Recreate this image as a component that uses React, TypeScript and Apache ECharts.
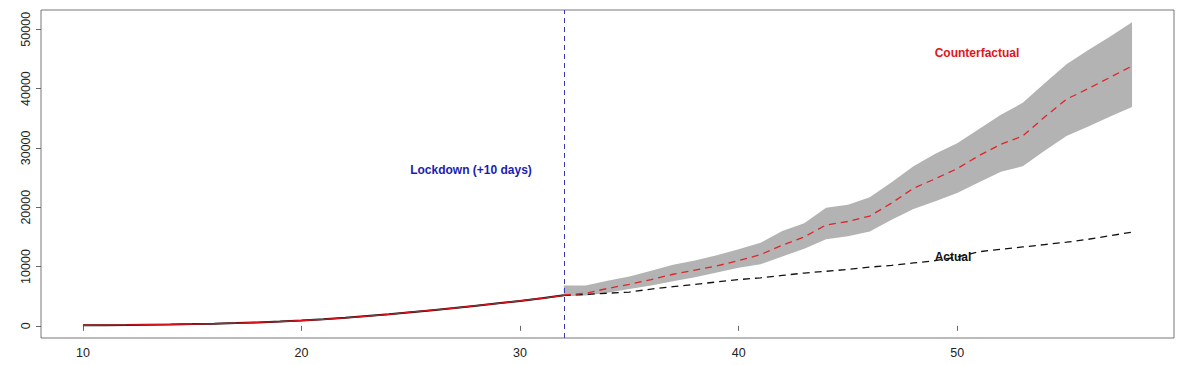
import React, { useEffect, useRef } from "react";
import * as echarts from "echarts";

// Pre-lockdown (days 10..32): observed = counterfactual
const preDays = [10, 11, 12, 13, 14, 15, 16, 17, 18, 19, 20, 21, 22, 23, 24, 25, 26, 27, 28, 29, 30, 31, 32];
const preValues = [100, 120, 150, 190, 240, 300, 370, 460, 570, 720, 900, 1100, 1350, 1650, 1950, 2300, 2650, 3000, 3400, 3800, 4200, 4650, 5150];

// Post-lockdown (days 32..58)
const postDays = [32, 33, 34, 35, 36, 37, 38, 39, 40, 41, 42, 43, 44, 45, 46, 47, 48, 49, 50, 51, 52, 53, 54, 55, 56, 57, 58];
const actual = [5150, 5300, 5500, 5700, 6200, 6600, 7000, 7400, 7800, 8100, 8500, 8900, 9200, 9500, 9900, 10200, 10600, 11000, 11600, 12500, 12900, 13300, 13700, 14100, 14600, 15200, 15800];
const cfMedian = [5200, 5500, 6300, 7000, 7800, 8700, 9400, 10100, 11000, 12000, 13600, 15000, 17000, 17600, 18500, 20700, 23200, 24800, 26500, 28700, 30600, 32000, 35200, 38200, 40000, 41900, 43800];
const cfLower = [5000, 5100, 5600, 6200, 6800, 7500, 8200, 9000, 9800, 10400, 11700, 13000, 14600, 15100, 15900, 17900, 19700, 21000, 22400, 24200, 26000, 26900, 29500, 32000, 33600, 35300, 36900];
const cfUpper = [6800, 6800, 7600, 8300, 9300, 10300, 11000, 11900, 12900, 14000, 16000, 17300, 19900, 20400, 21700, 24200, 26900, 29000, 30800, 33200, 35600, 37600, 40900, 44100, 46500, 48800, 51200];

const lockdownDay = 32;
const xTicks = [10, 20, 30, 40, 50];
const yTicks = [0, 10000, 20000, 30000, 40000, 50000];

const FONT = "'Liberation Sans', Arial, Helvetica, sans-serif";

export default function App() {
  const ref = useRef<HTMLDivElement>(null);
  useEffect(() => {
    if (!ref.current) return;
    const chart = echarts.init(ref.current, null, { renderer: "svg" });
    const zip = (xs: number[], ys: number[]) => xs.map((x, i) => [x, ys[i]]);
    const xMin = 10 - 0.04 * 48;
    const xMax = 58 + 0.04 * 48;
    const yMin = -0.04 * 51200;
    const yMax = 51200 * 1.04;
    const bandData = postDays.map((d, i) => [d, cfLower[i], cfUpper[i]]);
    chart.setOption({
      animation: false,
      grid: {
        left: 41,
        top: 10,
        right: 22,
        bottom: 27,
        show: true,
        borderColor: "#777",
        borderWidth: 1,
        backgroundColor: "transparent",
      },
      xAxis: {
        type: "value",
        min: xMin,
        max: xMax,
        axisLine: { show: false },
        splitLine: { show: false },
        axisTick: { show: true, length: 5, customValues: xTicks, lineStyle: { color: "#666" } },
        axisLabel: {
          customValues: xTicks,
          margin: 8,
          color: "#222",
          fontFamily: FONT,
          fontSize: 12.5,
        },
      },
      yAxis: {
        type: "value",
        min: yMin,
        max: yMax,
        axisLine: { show: false },
        splitLine: { show: false },
        axisTick: { show: true, length: 5, customValues: yTicks, lineStyle: { color: "#666" } },
        axisLabel: {
          customValues: yTicks,
          rotate: 90,
          margin: 9,
          color: "#222",
          fontFamily: FONT,
          fontSize: 12.5,
          verticalAlign: "bottom",
          align: "center",
          formatter: (v: number) => String(v),
        },
      },
      series: [
        {
          type: "custom",
          data: bandData,
          silent: true,
          z: 1,
          encode: { x: 0, y: [1, 2] },
          renderItem: (params: any, api: any) => {
            if (params.dataIndex !== 0) return null;
            const top = postDays.map((d, i) => api.coord([d, cfUpper[i]]));
            const bottom = postDays.map((d, i) => api.coord([d, cfLower[i]])).reverse();
            return {
              type: "polygon",
              shape: { points: top.concat(bottom) },
              style: { fill: "#b3b3b3", stroke: "none" },
            };
          },
        },
        {
          type: "line",
          data: zip(preDays, preValues),
          symbol: "none",
          lineStyle: { color: "#111", width: 2 },
          z: 3,
        },
        {
          type: "line",
          data: zip(preDays, preValues),
          symbol: "none",
          lineStyle: { color: "#d8141c", width: 1.3 },
          z: 4,
        },
        {
          type: "line",
          data: zip(postDays, actual),
          symbol: "none",
          lineStyle: { color: "#111", width: 1.3, type: [7, 5] },
          z: 3,
        },
        {
          type: "line",
          data: zip(postDays, cfMedian),
          symbol: "none",
          lineStyle: { color: "#e0242a", width: 1.3, type: [7, 5] },
          z: 4,
          markLine: {
            silent: true,
            symbol: "none",
            label: { show: false },
            lineStyle: { color: "#3a3ab0", width: 1, type: [5, 4] },
            data: [[{ coord: [lockdownDay, yMin] }, { coord: [lockdownDay, yMax] }]],
          },
        },
      ],
      graphic: [
        {
          type: "text",
          x: 471,
          y: 170,
          style: {
            text: "Lockdown (+10 days)",
            fill: "#1c1cb0",
            font: `bold 12px ${FONT}`,
            align: "center",
            verticalAlign: "middle",
          },
        },
        {
          type: "text",
          x: 977,
          y: 53,
          style: {
            text: "Counterfactual",
            fill: "#e0141c",
            font: `bold 12px ${FONT}`,
            align: "center",
            verticalAlign: "middle",
          },
        },
        {
          type: "text",
          x: 953,
          y: 257,
          z: 10,
          style: {
            text: "Actual",
            fill: "#111",
            font: `bold 12px ${FONT}`,
            align: "center",
            verticalAlign: "middle",
          },
        },
      ],
    });
    return () => chart.dispose();
  }, []);
  return (
    <div
      ref={ref}
      style={{ position: "fixed", left: 0, top: 0, width: 1196, height: 365, background: "#fff" }}
    />
  );
}
